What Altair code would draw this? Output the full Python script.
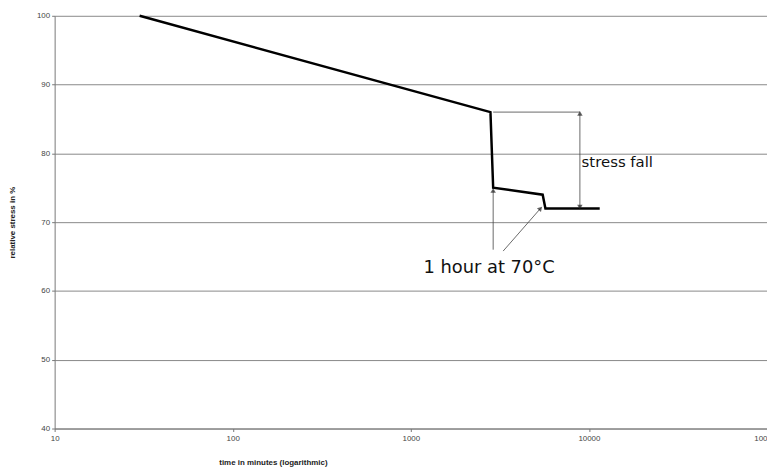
import altair as alt
import pandas as pd

# main curve
t_min = [30, 2800, 2900, 5500, 5700, 11500]
stress = [100, 86, 75, 74, 72, 72]

# annotation lines (thin)
ref_x = [2900, 8900]
ref_y = [86, 86]
fall_x = [8900, 8900]
fall_y = [72.2, 85.8]
hour1_x = [2900, 2900]
hour1_y = [66.0, 74.6]
hour2_x = [3300, 5350]
hour2_y = [65.8, 72.0]

x_ticks = [10, 100, 1000, 10000, 100000]
y_ticks = [40, 50, 60, 70, 80, 90, 100]

labels = ["stress fall", "1 hour at 70°C"]
label_x = [9100, 2750]
label_y = [78.7, 63.3]

xs = alt.Scale(type="log", domain=[10, 100000])
ys = alt.Scale(domain=[40, 100])

main_df = pd.DataFrame({"t": t_min, "s": stress})

base_x = alt.X("t:Q", scale=xs,
               axis=alt.Axis(values=x_ticks, format="d", title="time in minutes (logarithmic)",
                             grid=False, labelFont="Liberation Sans", labelFontSize=8,
                             labelColor="#444", titleFont="Liberation Sans", titleFontSize=8,
                             titleFontWeight="bold", titleColor="#222", titleX=220, titleY=30,
                             domainColor="#777", tickColor="#777", tickSize=3, labelPadding=3,
                             labelFlush=False))
base_y = alt.Y("s:Q", scale=ys,
               axis=alt.Axis(values=y_ticks, title="relative stress in %", grid=True,
                             gridColor="#888", gridWidth=1, labelFont="Liberation Sans",
                             labelFontSize=8, labelColor="#444", titleFont="Liberation Sans",
                             titleFontSize=8, titleFontWeight="bold", titleColor="#222",
                             titleX=-38, domainColor="#777", tickColor="#777", tickSize=3,
                             labelPadding=2))

main = alt.Chart(main_df).mark_line(color="black", strokeWidth=2.5).encode(x=base_x, y=base_y)


def thin(xv, yv, name):
    df = pd.DataFrame({"t": xv, "s": yv, "g": name})
    return alt.Chart(df).mark_line(color="#444", strokeWidth=0.8).encode(
        x=alt.X("t:Q", scale=xs), y=alt.Y("s:Q", scale=ys))


lines = [thin(ref_x, ref_y, "ref"), thin(fall_x, fall_y, "fall"),
         thin(hour1_x, hour1_y, "h1"), thin(hour2_x, hour2_y, "h2")]

heads_df = pd.DataFrame({
    "t": [fall_x[1], fall_x[0], hour1_x[1], hour2_x[1]],
    "s": [fall_y[1], fall_y[0], hour1_y[1], hour2_y[1]],
    "a": [0, 180, 0, 42],
})
heads = alt.Chart(heads_df).mark_point(shape="triangle-up", filled=True, color="#222", size=30).encode(
    x=alt.X("t:Q", scale=xs), y=alt.Y("s:Q", scale=ys), angle=alt.Angle("a:Q", scale=None))

text_df = pd.DataFrame({"t": label_x, "s": label_y, "l": labels})
txt1 = alt.Chart(text_df.iloc[[0]]).mark_text(font="DejaVu Sans", fontSize=15, align="left",
                                               color="#111").encode(
    x=alt.X("t:Q", scale=xs), y=alt.Y("s:Q", scale=ys), text="l:N")
txt2 = alt.Chart(text_df.iloc[[1]]).mark_text(font="DejaVu Sans", fontSize=18, align="center",
                                               color="#111").encode(
    x=alt.X("t:Q", scale=xs), y=alt.Y("s:Q", scale=ys), text="l:N")

chart = alt.layer(main, *lines, heads, txt1, txt2).properties(
    width=718, height=416, autosize=alt.AutoSizeParams(type="none"),
    padding={"left": 47, "top": 6, "right": 0, "bottom": 48},
    background="white",
).configure_view(stroke=None)

chart.save("out.html", embed_options={"renderer": "svg", "actions": False})
